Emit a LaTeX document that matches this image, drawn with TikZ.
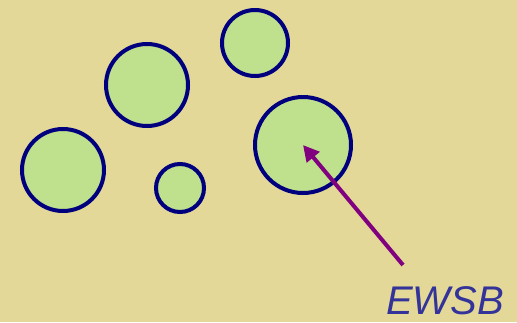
\documentclass[tikz,border=0pt]{standalone}
\usepackage{fontspec}
\setsansfont{Liberation Sans}
\usetikzlibrary{arrows.meta,positioning}

\definecolor{bgtan}{HTML}{E3D898}
\definecolor{bubblefill}{HTML}{BFE08C}
\definecolor{bubbleline}{HTML}{00007F}
\definecolor{arrowpurple}{HTML}{800080}
\definecolor{labelblue}{HTML}{333399}

\tikzset{
  bubble/.style={circle, draw=bubbleline, fill=bubblefill, line width=4pt, inner sep=0pt}
}

\begin{document}
\begin{tikzpicture}[x=1pt, y=-1pt]
    % Background
    \fill[bgtan] (0,0) rectangle (517,322);
    \useasboundingbox (0,0) rectangle (517,322);

    % Bubbles
    \node[bubble, minimum size=66pt] (b1) at (255,43) {};
    \node[bubble, minimum size=82pt] (b2) at (147,85) {};
    \node[bubble, minimum size=82pt] (b3) at (63,170) {};
    \node[bubble, minimum size=48pt] (b4) at (180,188) {};
    \node[bubble, minimum size=96pt] (b5) at (303,145) {};

    % Label and arrow
    \node[labelblue, font=\sffamily\itshape\fontsize{40}{40}\selectfont, anchor=base, inner sep=0pt] (ewsb) at (445,314) {EWSB};
    \coordinate (tail) at (403,265);
    \draw[-{Triangle[length=16pt, width=16pt]}, arrowpurple, line width=4pt] (tail) -- (b5.center);
\end{tikzpicture}
\end{document}
